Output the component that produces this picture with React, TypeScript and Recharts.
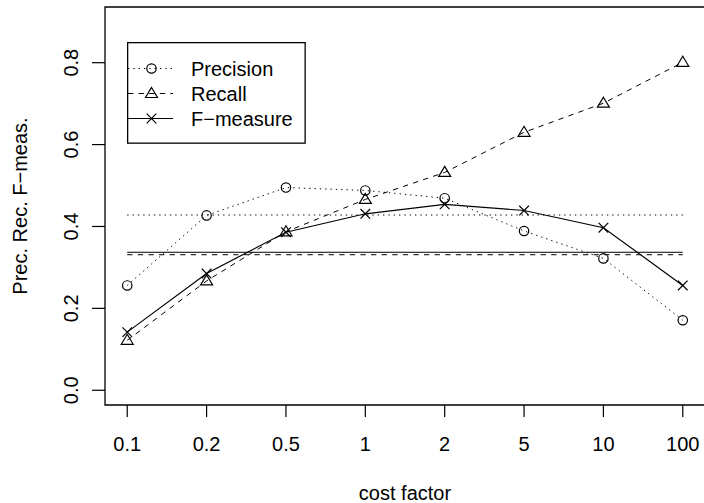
/* ── Precision / Recall / F-measure vs cost factor ── */

import { ComposedChart, Line, XAxis, YAxis, ReferenceLine, ReferenceArea } from "recharts";

const costFactors = ["0.1", "0.2", "0.5", "1", "2", "5", "10", "100"];
const precision = [0.256, 0.427, 0.495, 0.488, 0.469, 0.389, 0.322, 0.171];
const recall = [0.122, 0.267, 0.387, 0.466, 0.532, 0.630, 0.701, 0.801];
const fMeasure = [0.142, 0.285, 0.386, 0.431, 0.454, 0.439, 0.397, 0.256];

// baseline levels drawn as horizontal lines
const precisionBase = 0.428;
const recallBase = 0.331;
const fMeasureBase = 0.337;

const yTicks = [0, 0.2, 0.4, 0.6, 0.8];

const FONT = "'Liberation Sans', Arial, Helvetica, sans-serif";
const FS = 20;
const DOTTED = "1.33 4";
const DASHED = "5.3 5.3";

const data = costFactors.map((c, i) => ({
  idx: i + 1,
  label: c,
  precision: precision[i],
  recall: recall[i],
  fMeasure: fMeasure[i],
}));

function CircleMark({ cx, cy }: any) {
  if (cx == null || cy == null) return null;
  return <circle cx={cx} cy={cy} r={4.7} fill="none" stroke="#000" strokeWidth={1.2} />;
}

function TriangleMark({ cx, cy }: any) {
  if (cx == null || cy == null) return null;
  const h = 10;
  const w = 12;
  return (
    <path
      d={`M${cx},${cy - h * 0.6} L${cx + w / 2},${cy + h * 0.4} L${cx - w / 2},${cy + h * 0.4} Z`}
      fill="none"
      stroke="#000"
      strokeWidth={1.2}
    />
  );
}

function CrossMark({ cx, cy }: any) {
  if (cx == null || cy == null) return null;
  const s = 4.8;
  return (
    <path
      d={`M${cx - s},${cy - s} L${cx + s},${cy + s} M${cx - s},${cy + s} L${cx + s},${cy - s}`}
      stroke="#000"
      strokeWidth={1.2}
    />
  );
}

function YTick({ x, y, payload }: any) {
  return (
    <text
      x={x}
      y={y}
      transform={`rotate(-90, ${x}, ${y})`}
      textAnchor="middle"
      fontSize={FS}
      fontFamily={FONT}
      fill="#000"
    >
      {payload.value.toFixed(1)}
    </text>
  );
}

function YTitle({ viewBox }: any) {
  const x = viewBox.x + 27;
  const y = viewBox.y + viewBox.height / 2;
  return (
    <text
      x={x}
      y={y}
      transform={`rotate(-90, ${x}, ${y})`}
      textAnchor="middle"
      fontSize={FS}
      fontFamily={FONT}
      fill="#000"
    >
      Prec. Rec. F−meas.
    </text>
  );
}

function LegendBox() {
  const rows = [
    { name: "Precision", dash: DOTTED, Mark: CircleMark },
    { name: "Recall", dash: DASHED, Mark: TriangleMark },
    { name: "F−measure", dash: undefined, Mark: CrossMark },
  ];
  return (
    <svg width={179} height={102} style={{ position: "absolute", left: 126.5, top: 41.5 }}>
      <rect x={0.65} y={0.65} width={177.5} height={100.5} fill="#fff" stroke="#000" strokeWidth={1.3} />
      {rows.map((r, i) => {
        const cy = 26.5 + i * 25;
        return (
          <g key={r.name}>
            <line x1={1} x2={46} y1={cy} y2={cy} stroke="#000" strokeWidth={1} strokeDasharray={r.dash} />
            <r.Mark cx={24.5} cy={cy} />
            <text x={64} y={cy + 7} fontSize={FS} fontFamily={FONT} fill="#000">
              {r.name}
            </text>
          </g>
        );
      })}
    </svg>
  );
}

export default function App() {
  return (
    <div style={{ position: "absolute", left: 0, top: 0, width: 704, height: 503, overflow: "hidden", background: "#fff" }}>
      <ComposedChart width={712} height={503} data={data} margin={{ top: 7, right: 7, bottom: 0, left: 0 }}>
        <XAxis
          type="number"
          dataKey="idx"
          domain={[0.72, 8.28]}
          ticks={[1, 2, 3, 4, 5, 6, 7, 8]}
          tickFormatter={(v: number) => costFactors[v - 1]}
          allowDataOverflow
          axisLine={false}
          tickLine={{ stroke: "#000", strokeWidth: 1.2 }}
          tickSize={12}
          tickMargin={20}
          height={98}
          tick={{ fontSize: FS, fontFamily: FONT, fill: "#000" }}
          label={{ value: "cost factor", position: "insideBottom", offset: 3, fontSize: FS, fontFamily: FONT, fill: "#000" }}
        />
        <YAxis
          type="number"
          domain={[-0.036, 0.936]}
          ticks={yTicks}
          allowDataOverflow
          axisLine={false}
          tickLine={{ stroke: "#000", strokeWidth: 1.2 }}
          tickSize={13}
          tickMargin={14}
          width={105}
          tick={<YTick />}
          label={<YTitle />}
        />
        <ReferenceArea
          x1={0.72}
          x2={8.28}
          y1={-0.036}
          y2={0.936}
          fill="none"
          fillOpacity={0}
          stroke="#000"
          strokeWidth={1.3}
          ifOverflow="visible"
        />
        <ReferenceLine
          segment={[{ x: 1, y: precisionBase }, { x: 8, y: precisionBase }]}
          stroke="#000"
          strokeWidth={1}
          strokeDasharray={DOTTED}
        />
        <ReferenceLine
          segment={[{ x: 1, y: recallBase }, { x: 8, y: recallBase }]}
          stroke="#000"
          strokeWidth={1}
          strokeDasharray={DASHED}
        />
        <ReferenceLine
          segment={[{ x: 1, y: fMeasureBase }, { x: 8, y: fMeasureBase }]}
          stroke="#000"
          strokeWidth={1}
        />
        <Line
          dataKey="precision"
          type="linear"
          stroke="#000"
          strokeWidth={1}
          strokeDasharray={DOTTED}
          dot={<CircleMark />}
          activeDot={false}
          isAnimationActive={false}
        />
        <Line
          dataKey="recall"
          type="linear"
          stroke="#000"
          strokeWidth={1}
          strokeDasharray={DASHED}
          dot={<TriangleMark />}
          activeDot={false}
          isAnimationActive={false}
        />
        <Line
          dataKey="fMeasure"
          type="linear"
          stroke="#000"
          strokeWidth={1.2}
          dot={<CrossMark />}
          activeDot={false}
          isAnimationActive={false}
        />
      </ComposedChart>
      <LegendBox />
    </div>
  );
}
